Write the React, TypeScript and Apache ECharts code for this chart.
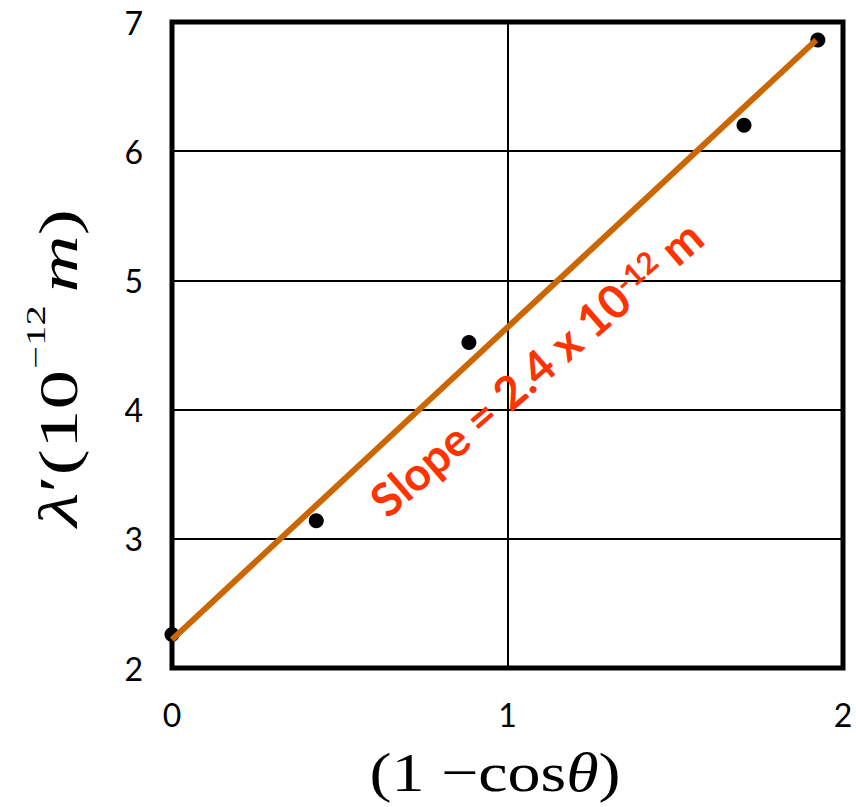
import React, { useEffect, useRef } from "react";
import * as echarts from "echarts";

const xTicks = [0, 1, 2];
const yTicks = [2, 3, 4, 5, 6, 7];
const pointX = [0, 0.43, 0.885, 1.705, 1.925];
const pointY = [2.26, 3.14, 4.52, 6.2, 6.86];
const fitX = [0, 1.92];
const fitY = [2.22, 6.86];

export default function App() {
  const ref = useRef<HTMLDivElement>(null);
  useEffect(() => {
    const chart = echarts.init(ref.current!, null, { renderer: "svg" });
    const serif = "Liberation Serif";
    const red = "#FF3300";
    chart.setOption({
      animation: false,
      grid: {
        left: 172,
        top: 22,
        right: 13,
        bottom: 139,
        show: true,
        borderColor: "#000",
        borderWidth: 5,
        backgroundColor: "transparent",
      },
      xAxis: {
        type: "value",
        min: xTicks[0],
        max: xTicks[xTicks.length - 1],
        interval: 1,
        axisLine: { show: false },
        axisTick: { show: false },
        splitLine: { show: true, lineStyle: { color: "#000", width: 2 } },
        axisLabel: {
          margin: 30,
          fontSize: 32,
          fontFamily: "Lato",
          color: "#000",
        },
      },
      yAxis: {
        type: "value",
        min: yTicks[0],
        max: yTicks[yTicks.length - 1],
        interval: 1,
        axisLine: { show: false },
        axisTick: { show: false },
        splitLine: { show: true, lineStyle: { color: "#000", width: 2 } },
        axisLabel: {
          margin: 29,
          fontSize: 32,
          fontFamily: "Lato",
          color: "#000",
        },
      },
      series: [
        {
          type: "line",
          data: fitX.map((x, i) => [x, fitY[i]]),
          showSymbol: false,
          lineStyle: { color: "#CC6600", width: 6 },
          z: 3,
        },
        {
          type: "scatter",
          data: pointX.map((x, i) => [x, pointY[i]]),
          symbolSize: 15,
          itemStyle: { color: "#000", opacity: 1 },
          z: 2,
        },
      ],
      graphic: [
        {
          type: "text",
          x: 536,
          y: 368,
          rotation: (41 * Math.PI) / 180,
          style: {
            text: "{a|Slope = 2.4 x 10}{b|-12}{a| m}",
            align: "center",
            verticalAlign: "middle",
            fill: red,
            rich: {
              a: { fontSize: 46, fontWeight: "bold", fontFamily: "Lato", fill: red, color: red },
              b: { fontSize: 30, fontWeight: "bold", fontFamily: "Lato", fill: red, color: red, verticalAlign: "top" },
            },
          },
          z: 10,
        },
        {
          type: "text",
          x: 58,
          y: 368,
          rotation: Math.PI / 2,
          scaleX: 1.44,
          style: {
            text: "{i|λ}{n|′(10}{s|−12}{i|m}{n|)}",
            align: "center",
            verticalAlign: "middle",
            fill: "#000",
            rich: {
              i: { fontSize: 55, lineHeight: 72, fontStyle: "italic", fontFamily: serif, fill: "#000" },
              n: { fontSize: 55, lineHeight: 72, fontFamily: serif, fill: "#000" },
              s: { fontSize: 28, lineHeight: 28, fontFamily: serif, fill: "#000", verticalAlign: "top", padding: [0, 9, 0, 1] },
            },
          },
        },
        {
          type: "text",
          x: 495,
          y: 772,
          scaleX: 1.2,
          style: {
            text: "{n|(1 −cos}{i|θ}{n|)}",
            align: "center",
            verticalAlign: "middle",
            fill: "#000",
            rich: {
              i: { fontSize: 55, fontStyle: "italic", fontFamily: serif, fill: "#000" },
              n: { fontSize: 55, fontFamily: serif, fill: "#000" },
            },
          },
        },
      ],
    });
    return () => chart.dispose();
  }, []);
  return <div ref={ref} style={{ width: 856, height: 807, position: "absolute", left: 0, top: 0 }} />;
}
